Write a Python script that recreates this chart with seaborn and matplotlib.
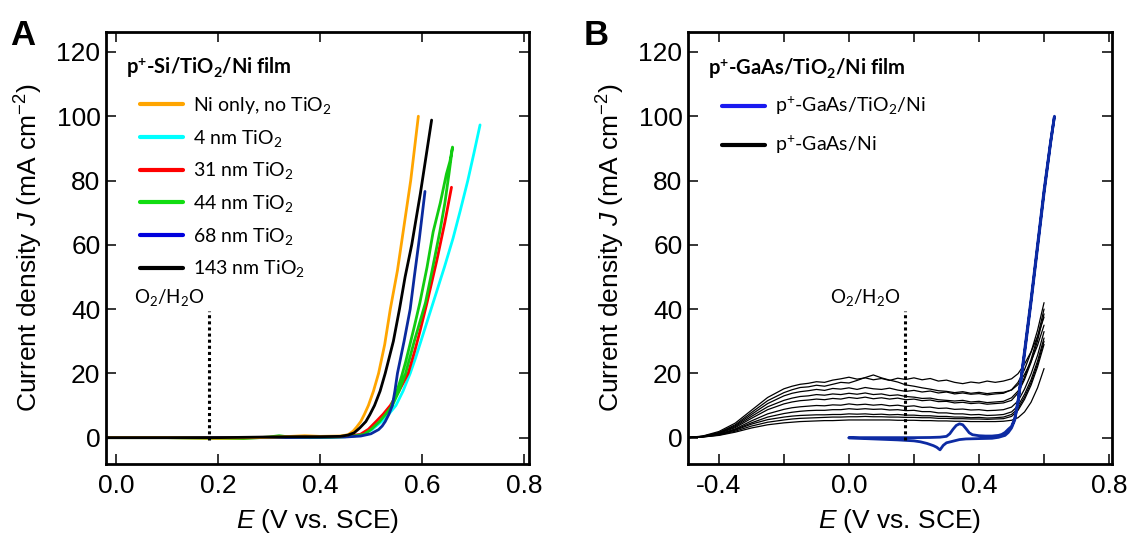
import numpy as np
import pandas as pd
import matplotlib
matplotlib.use("Agg")
import matplotlib.pyplot as plt
from matplotlib.lines import Line2D
from matplotlib.ticker import MultipleLocator, FormatStrFormatter
import seaborn as sns

# ---------------- Panel A data (p+-Si/TiO2/Ni film) ----------------
ni_only_E = [-0.02, 0.10, 0.20, 0.28, 0.33, 0.37, 0.40, 0.44, 0.455, 0.465, 0.472, 0.48, 0.487, 0.495, 0.505,
             0.515, 0.527, 0.538, 0.552, 0.565, 0.578, 0.593]
ni_only_J = [0.0, 0.0, -0.2, 0.0, 0.3, 0.6, 0.4, 0.5, 0.9, 2.0, 3.3, 5.0, 7.2, 10.0, 14.5,
             20.0, 29.0, 40.0, 52.0, 66.0, 80.0, 100.0]

tio2_4_E = [-0.02, 0.10, 0.20, 0.30, 0.40, 0.45, 0.486, 0.503, 0.521, 0.535, 0.549, 0.563, 0.577, 0.588,
            0.598, 0.610, 0.622, 0.633, 0.644, 0.661, 0.675, 0.690, 0.702, 0.714]
tio2_4_J = [0.0, 0.0, 0.0, 0.0, 0.1, 0.3, 1.0, 2.6, 5.0, 7.3, 10.0, 14.5, 20.0, 25.0,
            30.0, 36.0, 42.0, 47.5, 53.0, 62.0, 70.5, 80.0, 88.5, 97.3]

tio2_31_E = [-0.02, 0.10, 0.20, 0.30, 0.40, 0.45, 0.479, 0.495, 0.510, 0.524, 0.538, 0.555, 0.573, 0.586,
             0.596, 0.610, 0.629, 0.645, 0.658]
tio2_31_J = [0.0, 0.0, 0.0, 0.1, 0.2, 0.4, 1.0, 2.6, 5.0, 7.3, 10.0, 14.5, 20.0, 27.0,
             33.0, 42.0, 55.0, 67.0, 77.9]

tio2_44_E = [-0.02, 0.10, 0.18, 0.25, 0.30, 0.32, 0.34, 0.38, 0.42, 0.45, 0.47, 0.486, 0.500, 0.517, 0.530,
             0.542, 0.555, 0.568, 0.585, 0.607, 0.620, 0.635, 0.645, 0.653, 0.660,
             0.655, 0.648, 0.636, 0.622, 0.610, 0.596, 0.585, 0.575, 0.568, 0.560, 0.550, 0.540]
tio2_44_J = [0.0, 0.0, -0.2, -0.3, 0.2, 0.6, 0.2, 0.0, 0.1, 0.3, 0.6, 1.0, 2.5, 5.0, 7.5,
             10.0, 14.5, 20.0, 30.0, 42.0, 52.0, 64.0, 73.0, 82.0, 90.4,
             86.0, 82.0, 73.0, 64.0, 53.0, 42.0, 34.5, 28.0, 23.5, 19.0, 14.0, 10.0]

tio2_68_E = [-0.02, 0.10, 0.20, 0.30, 0.40, 0.45, 0.48, 0.50, 0.515, 0.522, 0.528, 0.535, 0.542, 0.547,
             0.552, 0.565, 0.577, 0.585, 0.595, 0.606]
tio2_68_J = [0.0, 0.0, 0.0, 0.0, 0.1, 0.2, 0.5, 1.2, 2.5, 3.6, 5.0, 7.2, 10.0, 14.5,
             20.0, 30.0, 40.0, 50.0, 62.0, 76.6]

tio2_143_E = [-0.02, 0.10, 0.20, 0.30, 0.36, 0.40, 0.44, 0.455, 0.467, 0.478, 0.490, 0.498, 0.507, 0.518,
              0.528, 0.544, 0.556, 0.567, 0.580, 0.597, 0.619]
tio2_143_J = [0.0, 0.0, 0.0, 0.2, 0.3, 0.3, 0.4, 0.8, 1.5, 3.0, 5.0, 7.2, 10.0, 14.5,
              20.0, 30.0, 40.0, 50.0, 60.0, 76.0, 98.8]

a_labels = ["Ni only, no TiO$_2$", "4 nm TiO$_2$", "31 nm TiO$_2$", "44 nm TiO$_2$", "68 nm TiO$_2$", "143 nm TiO$_2$"]

# ---------------- Panel B data (p+-GaAs) ----------------
gaas_E = [-0.50, -0.45, -0.40, -0.35, -0.30, -0.25, -0.20, -0.175, -0.15, -0.125, -0.10, -0.075, -0.05, -0.025,
          0.00, 0.025, 0.05, 0.075, 0.10, 0.125, 0.15, 0.175, 0.20, 0.225, 0.25, 0.275, 0.30, 0.325, 0.35, 0.375,
          0.40, 0.425, 0.45, 0.475, 0.50, 0.52, 0.54, 0.56, 0.58, 0.60]
gaas_ni_J1 = [0, 0.5, 1.9, 4.5, 8.5, 12.5, 15.2, 16.0, 16.6, 16.9, 17.4, 17.2, 17.9, 18.3,
              18.8, 18.2, 18.6, 18.0, 18.4, 17.8, 18.5, 18.1, 18.6, 18.0, 18.4, 17.6, 17.9, 17.2, 16.8, 17.3,
              17.0, 17.6, 17.2, 17.6, 18.3, 19.9, 22.9, 26.7, 31.5, 37.5]
gaas_ni_J2 = [0, 0.4, 1.6, 4.0, 7.8, 11.5, 14.0, 14.9, 15.6, 15.8, 16.3, 16.0, 16.6, 17.2,
              17.0, 17.8, 18.7, 19.5, 18.6, 17.9, 17.3, 16.4, 16.0, 15.5, 15.1, 14.6, 14.4, 14.0, 14.3, 13.8,
              14.1, 13.7, 14.0, 14.1, 14.8, 16.5, 19.7, 23.7, 28.7, 35.0]
gaas_ni_J3 = [0, 0.4, 1.5, 3.7, 7.2, 10.6, 13.0, 13.8, 14.3, 14.6, 15.0, 14.7, 15.3, 15.1,
              15.5, 15.0, 15.6, 15.2, 15.0, 15.4, 14.8, 14.4, 14.7, 14.2, 14.5, 13.9, 14.2, 13.6, 13.9, 13.5,
              13.7, 13.3, 13.6, 13.8, 14.9, 17.2, 21.2, 26.6, 33.4, 42.0]
gaas_ni_J4 = [0, 0.4, 1.4, 3.4, 6.6, 9.6, 11.6, 12.3, 12.8, 13.0, 13.4, 13.2, 13.6, 13.4,
              13.8, 13.5, 13.9, 13.4, 13.6, 13.1, 13.3, 12.8, 12.6, 12.2, 12.3, 11.8, 11.6, 11.4, 11.6, 11.1,
              11.3, 10.9, 11.1, 11.3, 12.4, 14.5, 18.8, 24.3, 31.3, 40.0]
gaas_ni_J5 = [0, 0.35, 1.3, 3.1, 6.0, 8.7, 10.5, 11.1, 11.5, 11.7, 12.0, 11.8, 12.2, 12.0,
              12.5, 12.2, 12.6, 12.1, 12.4, 12.0, 12.3, 11.8, 12.0, 11.5, 11.7, 11.2, 11.3, 10.8, 11.0, 10.6,
              10.8, 10.4, 10.6, 10.8, 11.6, 13.9, 18.1, 23.4, 30.1, 38.5]
gaas_ni_J6 = [0, 0.3, 1.1, 2.7, 5.2, 7.4, 8.8, 9.3, 9.6, 9.8, 10.0, 9.9, 10.2, 10.1,
              10.5, 10.2, 10.4, 10.1, 10.3, 9.9, 10.1, 9.7, 9.9, 9.4, 9.5, 9.1, 9.2, 8.8, 8.9, 8.6,
              8.7, 8.4, 8.5, 8.7, 9.5, 11.4, 15.1, 19.8, 25.6, 33.0]
gaas_ni_J7 = [0, 0.3, 1.0, 2.5, 4.6, 6.4, 7.5, 7.9, 8.2, 8.4, 8.5, 8.5, 8.7, 8.7,
              9.0, 8.8, 9.0, 8.8, 8.9, 8.6, 8.7, 8.4, 8.5, 8.1, 8.1, 7.7, 7.7, 7.4, 7.4, 7.1,
              7.2, 6.9, 7.0, 7.2, 8.0, 9.9, 13.5, 18.0, 23.8, 31.0]
gaas_ni_J8 = [0, 0.25, 0.9, 2.3, 4.2, 5.6, 6.4, 6.7, 6.9, 7.0, 7.1, 7.1, 7.2, 7.2,
              7.4, 7.3, 7.4, 7.2, 7.3, 7.1, 7.2, 7.0, 7.0, 6.8, 6.8, 6.6, 6.6, 6.4, 6.4, 6.2,
              6.3, 6.1, 6.2, 6.4, 7.2, 9.1, 12.6, 17.1, 22.9, 30.0]
gaas_ni_J9 = [0, 0.2, 0.8, 2.0, 3.6, 4.8, 5.5, 5.8, 6.0, 6.1, 6.2, 6.3, 6.4, 6.4,
              6.5, 6.5, 6.6, 6.5, 6.5, 6.4, 6.4, 6.3, 6.3, 6.2, 6.2, 6.0, 6.0, 5.9, 5.9, 5.8,
              5.8, 5.7, 5.8, 5.9, 6.6, 8.5, 11.9, 16.3, 22.0, 29.0]
gaas_ni_J10 = [0, 0.2, 0.7, 1.7, 3.0, 4.0, 4.6, 4.8, 5.0, 5.1, 5.2, 5.3, 5.3, 5.4,
               5.5, 5.5, 5.5, 5.5, 5.5, 5.5, 5.4, 5.4, 5.4, 5.3, 5.3, 5.2, 5.2, 5.1, 5.1, 5.0,
               5.0, 5.0, 5.0, 5.1, 5.4, 6.2, 8.0, 11.0, 15.5, 21.5]

gaas_tio2_E = [0.00, 0.05, 0.10, 0.15, 0.20, 0.25, 0.28, 0.30, 0.31, 0.32, 0.33, 0.34, 0.35, 0.36, 0.37, 0.38,
               0.40, 0.42, 0.44, 0.46, 0.47, 0.48, 0.49, 0.50, 0.51, 0.52, 0.53, 0.54, 0.55, 0.56, 0.58, 0.60,
               0.62, 0.632,
               0.62, 0.60, 0.58, 0.56, 0.54, 0.52, 0.51, 0.50, 0.49, 0.48, 0.46, 0.44, 0.40, 0.36, 0.34, 0.32,
               0.30, 0.29, 0.28, 0.27, 0.26, 0.24, 0.22, 0.20, 0.15, 0.10, 0.05, 0.00]
gaas_tio2_J = [0.0, 0.0, 0.0, 0.0, 0.0, 0.05, 0.15, 0.4, 1.2, 2.6, 3.8, 4.3, 4.0, 2.8, 1.5, 0.9,
               0.6, 0.5, 0.5, 0.7, 1.0, 1.6, 2.6, 3.5, 6.0, 11.5, 19.0, 27.0, 35.0, 43.0, 60.0, 77.0,
               92.0, 100.0,
               91.5, 76.0, 59.0, 42.0, 26.0, 11.0, 5.5, 3.0, 1.6, 0.7, 0.1, -0.2, -0.3, -0.4, -0.6, -1.1,
               -1.6, -2.4, -3.8, -3.0, -2.5, -1.8, -1.3, -1.0, -0.7, -0.5, -0.3, -0.1]

b_labels = ["p$^{+}$-GaAs/TiO$_2$/Ni", "p$^{+}$-GaAs/Ni"]

# ---------------- style ----------------
sns.set_theme(style="ticks")
plt.rcParams['font.family'] = ['Liberation Sans', 'DejaVu Sans']
plt.rcParams['mathtext.fontset'] = 'custom'
plt.rcParams['mathtext.rm'] = 'Liberation Sans'
plt.rcParams['mathtext.it'] = 'Liberation Sans:italic'
plt.rcParams['mathtext.bf'] = 'Liberation Sans:bold'
plt.rcParams['mathtext.default'] = 'regular'
plt.rcParams['axes.unicode_minus'] = False
for k in ['text.color', 'axes.labelcolor', 'xtick.color', 'ytick.color', 'axes.edgecolor']:
    plt.rcParams[k] = 'black'

TXT = ['Lato', 'DejaVu Sans']

fig = plt.figure(figsize=(11.3, 5.38), dpi=100)
axA = fig.add_axes([106/1130, 74/538, 423/1130, 432/538])
axB = fig.add_axes([688/1130, 74/538, 424/1130, 432/538])


def line(ax, E, J, color, lw):
    df = pd.DataFrame({"E": E, "J": J})
    sns.lineplot(data=df, x="E", y="J", sort=False, estimator=None, color=color,
                 lw=lw, ax=ax, legend=False)


LW = 2.0
line(axA, tio2_4_E, tio2_4_J, '#00FFFF', LW)
line(axA, tio2_31_E, tio2_31_J, '#FF0000', LW)
line(axA, tio2_44_E, tio2_44_J, '#11CC11', LW)
line(axA, tio2_68_E, tio2_68_J, '#0A2A9E', LW)
line(axA, ni_only_E, ni_only_J, '#FFA500', LW)
line(axA, tio2_143_E, tio2_143_J, '#000000', LW)

for Jc in [gaas_ni_J1, gaas_ni_J2, gaas_ni_J3, gaas_ni_J4, gaas_ni_J5,
           gaas_ni_J6, gaas_ni_J7, gaas_ni_J8, gaas_ni_J9, gaas_ni_J10]:
    line(axB, gaas_E, Jc, '#000000', 0.9)
line(axB, gaas_tio2_E, gaas_tio2_J, '#0D2BA3', 2.0)

for ax in (axA, axB):
    ax.set_ylim(-8.2, 126.2)
    ax.yaxis.set_major_locator(MultipleLocator(20))
    ax.tick_params(axis='both', which='both', direction='in', top=True, right=True,
                   length=7, width=1.1, labelsize=19, color='black', labelcolor='black')
    ax.tick_params(axis='x', which='both', pad=7)
    ax.tick_params(axis='y', which='both', pad=4)
    for s in ax.spines.values():
        s.set_linewidth(2.0)
        s.set_color('black')
    ax.set_xlabel(r"$\mathit{E}$ (V vs. SCE)", fontsize=19, labelpad=7)
    ax.set_ylabel(r"Current density $\mathit{J}$ (mA cm$^{-2}$)", fontsize=19, labelpad=8)

axA.set_xlim(-0.0196, 0.81)
axA.xaxis.set_major_locator(MultipleLocator(0.2))
axA.xaxis.set_major_formatter(FormatStrFormatter('%.1f'))

axB.set_xlim(-0.495, 0.809)
axB.xaxis.set_major_locator(MultipleLocator(0.4))
axB.xaxis.set_minor_locator(MultipleLocator(0.2))
axB.xaxis.set_major_formatter(FormatStrFormatter('%.1f'))

# O2/H2O markers
axA.plot([0.182, 0.182], [-0.8, 39.5], color='black', lw=2.2, ls=(0, (1, 1)))
axA.text(0.104, 43.5, "O$_2$/H$_2$O", ha='center', va='center', fontsize=13.5, family=TXT)
axB.plot([0.173, 0.173], [-0.8, 39.5], color='black', lw=2.2, ls=(0, (1, 1)))
axB.text(0.05, 43.5, "O$_2$/H$_2$O", ha='center', va='center', fontsize=13.5, family=TXT)

# Legends
axA.text((126-106)/423, (464-68)/432, "p$^{+}$-Si/TiO$_2$/Ni film", transform=axA.transAxes,
         ha='left', va='center', fontsize=14.5, fontweight='bold', family=TXT)
a_handles = [Line2D([], [], color=c, lw=3) for c in
             ['#FFA500', '#00FFFF', '#FF0000', '#11DD11', '#0000DD', '#000000']]
legA = axA.legend(a_handles, a_labels, loc='upper left', frameon=False,
                  bbox_to_anchor=((140-106)/423, (464-95)/432), borderpad=0, borderaxespad=0,
                  handlelength=2.2, handletextpad=0.55, labelspacing=0.6,
                  prop={'family': TXT, 'size': 14})

axB.text((708-688)/424, (464-69)/432, "p$^{+}$-GaAs/TiO$_2$/Ni film", transform=axB.transAxes,
         ha='left', va='center', fontsize=14.5, fontweight='bold', family=TXT)
b_handles = [Line2D([], [], color='#1A1AF0', lw=3), Line2D([], [], color='#000000', lw=3)]
legB = axB.legend(b_handles, b_labels, loc='upper left', frameon=False,
                  bbox_to_anchor=((722-688)/424, (464-95)/432), borderpad=0, borderaxespad=0,
                  handlelength=2.2, handletextpad=0.55, labelspacing=0.85,
                  prop={'family': TXT, 'size': 14})

fig.text(10/1130, 1 - 45/538, "A", fontsize=25, fontweight='bold', ha='left', va='baseline')
fig.text(584/1130, 1 - 45/538, "B", fontsize=25, fontweight='bold', ha='left', va='baseline')

fig.savefig("out.png", dpi=100)
